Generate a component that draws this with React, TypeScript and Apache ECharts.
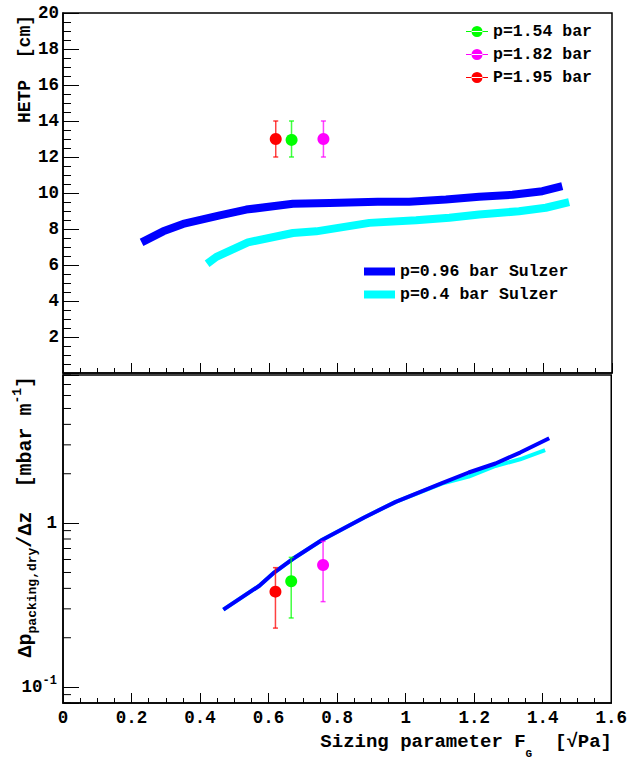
import React, { useEffect, useRef } from 'react';
import * as echarts from 'echarts';

const MONO = "'Liberation Mono', 'DejaVu Sans Mono', monospace";

// HETP of the Sulzer packing, F_G in sqrt(Pa), HETP in cm
const hetpHighF = [0.229, 0.292, 0.35, 0.457, 0.534, 0.67, 0.777, 0.917, 1.009, 1.116, 1.213, 1.31, 1.397, 1.455];
const hetpHigh = [7.26, 7.87, 8.28, 8.76, 9.08, 9.4, 9.45, 9.51, 9.51, 9.64, 9.79, 9.9, 10.1, 10.38];
const hetpLowF = [0.42, 0.447, 0.539, 0.67, 0.738, 0.893, 1.029, 1.126, 1.213, 1.329, 1.407, 1.475];
const hetpLow = [6.07, 6.45, 7.26, 7.78, 7.87, 8.34, 8.48, 8.62, 8.8, 8.99, 9.18, 9.49];

// dry packing pressure drop, mbar/m
const dpHighF = [0.468, 0.573, 0.617, 0.67, 0.757, 0.879, 0.971, 1.106, 1.184, 1.262, 1.334, 1.419];
const dpHigh = [0.297, 0.415, 0.501, 0.604, 0.791, 1.083, 1.348, 1.752, 2.035, 2.309, 2.693, 3.29];
const dpLowF = [0.468, 0.573, 0.617, 0.67, 0.757, 0.879, 0.971, 1.106, 1.184, 1.262, 1.334, 1.407];
const dpLow = [0.297, 0.415, 0.501, 0.604, 0.791, 1.083, 1.348, 1.74, 1.92, 2.23, 2.45, 2.79];

// measurements
const measNames = ['p=1.54 bar', 'p=1.82 bar', 'P=1.95 bar'];
const measColors = ['#00ff00', '#ff00ff', '#ff0000'];
const measF = [0.666, 0.759, 0.62];
const measHetp = [13, 13, 13];
const measHetpErr = [1, 1, 1];
const measDp = [0.442, 0.555, 0.382];
const measDpLow = [0.264, 0.332, 0.229];
const measDpHigh = [0.618, 0.774, 0.535];

const sulzerNames = ['p=0.96 bar Sulzer', 'p=0.4 bar Sulzer'];
const sulzerColors = ['#0000ff', '#00ffff'];

// minor ticks of the logarithmic axis
const logMinorTicks = [0.08, 0.09, 0.2, 0.3, 0.4, 0.5, 0.6, 0.7, 0.8, 0.9, 2, 3, 4, 5, 6, 7, 8];

const pairs = (xs: number[], ys: number[]) => xs.map((x, i) => [x, ys[i]]);

function errorBar(color: string) {
  return (params: any, api: any) => {
    const x = api.value(0);
    const c = api.coord([x, api.value(1)]);
    const lo = api.coord([x, api.value(2)]);
    const hi = api.coord([x, api.value(3)]);
    const cap = 2.5;
    const bar = { stroke: color, lineWidth: 1.5, opacity: 0.75 };
    return {
      type: 'group',
      children: [
        { type: 'line', shape: { x1: c[0], y1: lo[1], x2: c[0], y2: hi[1] }, style: bar },
        { type: 'line', shape: { x1: c[0] - cap, y1: lo[1], x2: c[0] + cap, y2: lo[1] }, style: bar },
        { type: 'line', shape: { x1: c[0] - cap, y1: hi[1], x2: c[0] + cap, y2: hi[1] }, style: bar },
        { type: 'circle', shape: { cx: c[0], cy: c[1], r: 6 }, style: { fill: color } },
      ],
    };
  };
}

const black = '#000';
const labelFont = { fontFamily: MONO, fontWeight: 'bold' as const, fontSize: 17.5, color: black };

function xAxisFor(gridIndex: number, labels: boolean) {
  return {
    type: 'value',
    gridIndex,
    min: 0,
    max: 1.6,
    interval: 0.2,
    axisLine: { show: true, onZero: false, lineStyle: { color: black, width: 1.5 } },
    axisTick: { inside: true, length: 10, lineStyle: { color: black, width: 1 } },
    minorTick: { show: true, splitNumber: 4, length: 5, lineStyle: { color: black, width: 1 } },
    splitLine: { show: false },
    axisLabel: { show: labels, margin: 6, ...labelFont },
  };
}

export default function App() {
  const ref = useRef<HTMLDivElement>(null);

  useEffect(() => {
    if (!ref.current) return;
    const chart = echarts.init(ref.current, null, { renderer: 'svg' });

    const series: any[] = [];
    // upper panel: HETP
    series.push({
      type: 'line', name: sulzerNames[0], xAxisIndex: 0, yAxisIndex: 0,
      data: pairs(hetpHighF, hetpHigh), symbol: 'none', color: sulzerColors[0],
      itemStyle: { color: sulzerColors[0] }, lineStyle: { width: 8, color: sulzerColors[0] }, z: 3,
    });
    series.push({
      type: 'line', name: sulzerNames[1], xAxisIndex: 0, yAxisIndex: 0,
      data: pairs(hetpLowF, hetpLow), symbol: 'none', color: sulzerColors[1],
      itemStyle: { color: sulzerColors[1] }, lineStyle: { width: 8, color: sulzerColors[1] }, z: 3,
    });
    measNames.forEach((name, i) => {
      series.push({
        type: 'custom', name, xAxisIndex: 0, yAxisIndex: 0, clip: false, z: 4,
        itemStyle: { color: measColors[i] },
        renderItem: errorBar(measColors[i]),
        data: [[measF[i], measHetp[i], measHetp[i] - measHetpErr[i], measHetp[i] + measHetpErr[i]]],
      });
    });
    // lower panel: pressure drop
    series.push({
      type: 'line', name: sulzerNames[1], xAxisIndex: 1, yAxisIndex: 1,
      data: pairs(dpLowF, dpLow), symbol: 'none', color: sulzerColors[1],
      itemStyle: { color: sulzerColors[1] }, lineStyle: { width: 4, color: sulzerColors[1] }, z: 3,
    });
    series.push({
      type: 'line', name: sulzerNames[0], xAxisIndex: 1, yAxisIndex: 1,
      data: pairs(dpHighF, dpHigh), symbol: 'none', color: sulzerColors[0],
      itemStyle: { color: sulzerColors[0] }, lineStyle: { width: 4, color: sulzerColors[0] }, z: 3,
    });
    measNames.forEach((name, i) => {
      series.push({
        type: 'custom', name, xAxisIndex: 1, yAxisIndex: 1, clip: false, z: 4,
        itemStyle: { color: measColors[i] },
        renderItem: errorBar(measColors[i]),
        data: [[measF[i], measDp[i], measDpLow[i], measDpHigh[i]]],
      });
    });
    series.push({
      type: 'custom', name: 'log minor ticks', xAxisIndex: 1, yAxisIndex: 1, clip: false, silent: true,
      renderItem: (params: any, api: any) => {
        const p = api.coord([0, api.value(1)]);
        return { type: 'line', shape: { x1: p[0], y1: p[1], x2: p[0] + 8, y2: p[1] }, style: { stroke: black, lineWidth: 1 } };
      },
      data: logMinorTicks.map((v) => [0, v]),
    });

    const legendText = { fontFamily: MONO, fontWeight: 'bold', fontSize: 16.5, lineHeight: 16, color: black };

    chart.setOption({
      animation: false,
      backgroundColor: '#fff',
      grid: [
        { left: 63, right: 18, top: 13, height: 360, show: true, borderColor: black, borderWidth: 1.5 },
        { left: 63, right: 18, top: 375, height: 328, show: true, borderColor: black, borderWidth: 1.5 },
      ],
      xAxis: [xAxisFor(0, false), xAxisFor(1, true)],
      yAxis: [
        {
          type: 'value', gridIndex: 0, min: 0, max: 20, interval: 2,
          axisLine: { show: true, lineStyle: { color: black, width: 1.5 } },
          axisTick: { inside: true, length: 16, lineStyle: { color: black, width: 1 } },
          minorTick: { show: true, splitNumber: 4, length: 8, lineStyle: { color: black, width: 1 } },
          splitLine: { show: false },
          axisLabel: { margin: 4, ...labelFont, formatter: (v: number) => (v === 0 ? '' : String(v)) },
        },
        {
          type: 'log', gridIndex: 1, logBase: 10, min: 0.08, max: 8,
          axisLine: { show: true, lineStyle: { color: black, width: 1.5 } },
          axisTick: { inside: true, length: 16, lineStyle: { color: black, width: 1 } },
          splitLine: { show: false },
          axisLabel: {
            margin: 6, ...labelFont, lineHeight: 24,
            formatter: (v: number) => {
              const e = Math.log10(v);
              const n = Math.round(e);
              if (Math.abs(e - n) > 1e-6) return '';
              return n === 0 ? '1' : '10{sup|' + n + '}';
            },
            rich: {
              sup: { fontFamily: MONO, fontWeight: 'bold', fontSize: 12, lineHeight: 12, verticalAlign: 'top', color: black },
            },
          },
        },
      ],
      legend: [
        {
          data: measNames, orient: 'vertical', left: 466, top: 23, padding: 0, itemWidth: 22, itemHeight: 12, itemGap: 6,
          icon: 'path://M0,5.5 L22,5.5 L22,6.5 L0,6.5 Z M5.5,6 A5.5,5.5 0 1 0 16.5,6 A5.5,5.5 0 1 0 5.5,6 Z',
          selectedMode: false, textStyle: legendText,
        },
        {
          data: sulzerNames, orient: 'vertical', left: 364, top: 263, padding: 0, itemWidth: 31, itemHeight: 8, itemGap: 6,
          icon: 'rect', selectedMode: false, textStyle: legendText,
        },
      ],
      graphic: [
        {
          type: 'text', x: 25, y: 15, rotation: Math.PI / 2,
          style: { text: 'HETP  [cm]', fontFamily: MONO, fontWeight: 'bold', fontSize: 18, fill: black, align: 'right', verticalAlign: 'middle' },
        },
        {
          type: 'text', x: 25, y: 376, rotation: Math.PI / 2,
          style: {
            text: 'Δp{sub|packing,dry}/Δz  [mbar m{sup|-1}]',
            fontFamily: MONO, fontWeight: 'bold', fontSize: 20, lineHeight: 28, fill: black,
            align: 'right', verticalAlign: 'middle',
            rich: {
              sub: { fontFamily: MONO, fontWeight: 'bold', fontSize: 13, lineHeight: 10, verticalAlign: 'bottom', fill: black },
              sup: { fontFamily: MONO, fontWeight: 'bold', fontSize: 13, lineHeight: 10, verticalAlign: 'top', fill: black },
            },
          },
        },
        {
          type: 'text', x: 612, y: 742,
          style: {
            text: 'Sizing parameter F{sub|G}  [√Pa]',
            fontFamily: MONO, fontWeight: 'bold', fontSize: 19, lineHeight: 34, fill: black,
            align: 'right', verticalAlign: 'middle',
            rich: {
              sub: { fontFamily: MONO, fontWeight: 'bold', fontSize: 11, lineHeight: 10, verticalAlign: 'bottom', fill: black },
            },
          },
        },
      ],
      series,
    });

    return () => chart.dispose();
  }, []);

  return <div ref={ref} style={{ position: 'fixed', left: 0, top: 0, width: 630, height: 760, background: '#fff' }} />;
}
